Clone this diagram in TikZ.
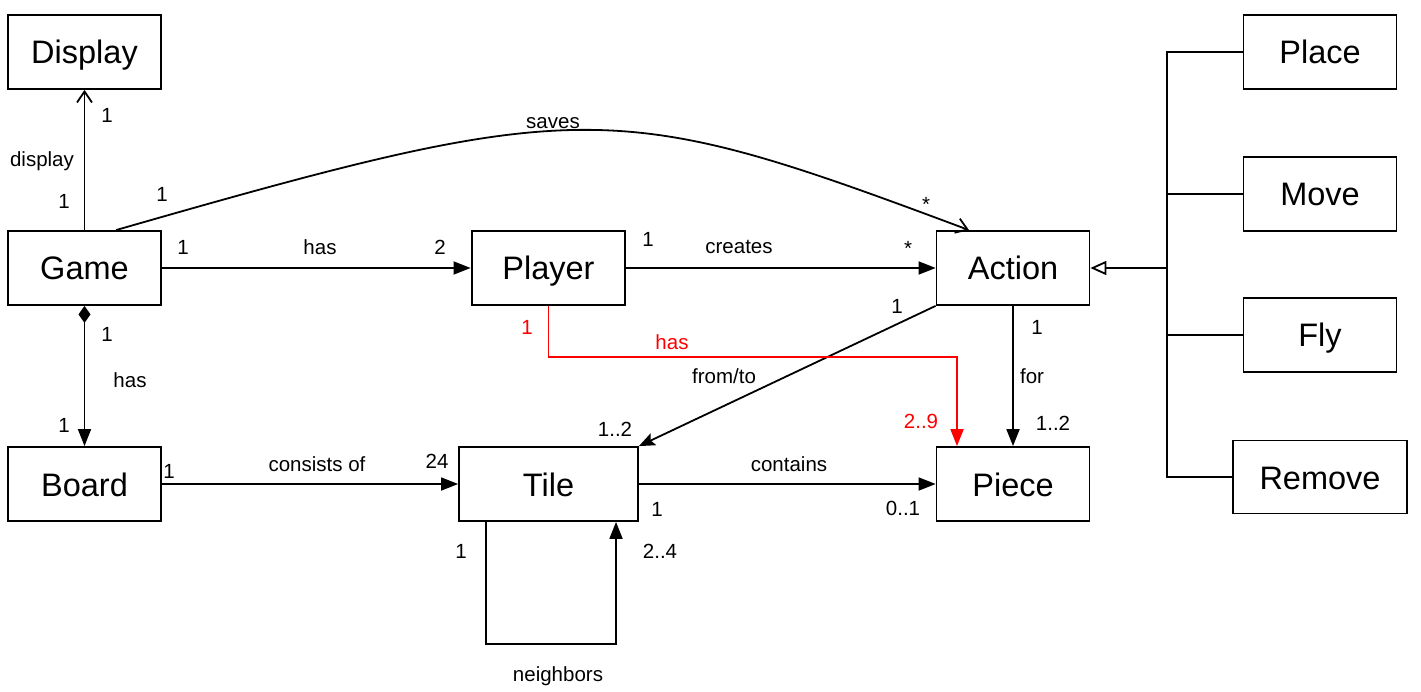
\documentclass[tikz,border=0pt]{standalone}
\usepackage{fontspec}
\setmainfont{Liberation Sans}
\usetikzlibrary{arrows.meta,calc}
\begin{document}
\begin{tikzpicture}[x=1pt,y=-1pt,
  cls/.style={draw, line width=1.8pt, minimum width=153pt, minimum height=74pt, inner sep=0pt,
    text height=24pt, text depth=0pt, font=\fontsize{32.5}{36}\selectfont},
  lbl/.style={inner sep=0pt, anchor=base, font=\fontsize{20.5}{24}\selectfont},
  conn/.style={line width=1.8pt},
  filltip/.style={-{Triangle[length=17pt,width=13pt]}},
  opentip/.style={-{Straight Barb[length=11pt,width=15pt]}},
]
\fill[white] (0,0) rectangle (1421,692);
\useasboundingbox (0,0) rectangle (1421,692);

% classes
\node[cls] (Display) at (84.5,52) {Display};
\node[cls] (Game) at (84.5,268) {Game};
\node[cls] (Board) at (84.5,484) {Board};
\node[cls, line width=2.8pt] (Player) at (548.5,268) {Player};
\node[cls] (Action) at (1013,268) {Action};
\node[cls, minimum width=179pt] (Tile) at (548.5,484) {Tile};
\node[cls] (Piece) at (1013,484) {Piece};
\node[cls] (Place) at (1320,52) {Place};
\node[cls] (Move) at (1320,194) {Move};
\node[cls] (Fly) at (1320,335) {Fly};
\node[cls, minimum width=174pt, minimum height=73pt] (Remove) at (1320,477) {Remove};

% connectors
\draw[conn, opentip] (Game.north) -- (Display.south);
\draw[conn, opentip] ($(Game.north)+(31.5,0)$) .. controls +(470,-135) and +(-353,-132) .. ($(Action.north)+(-44,0)$);
\draw[conn, filltip] (Game.east) -- (Player.west);
\draw[conn, filltip] (Player.east) -- (Action.west);
\draw[conn, {Diamond[length=17pt,width=12pt]}-{Triangle[length=17pt,width=13pt]}] (Game.south) -- (Board.north);
\draw[conn, filltip] (Board.east) -- (Tile.west);
\draw[conn, filltip] (Tile.east) -- (Piece.west);
\draw[conn, filltip] (Action.south) -- (Piece.north);
\draw[conn, -{Stealth[length=16pt,width=13pt,inset=3pt]}] (Action.south west) -- (Tile.north east);
\draw[conn, red, filltip] (Player.south) -- ++(0,51) -| ($(Piece.north)+(-56,0)$);
\draw[conn, filltip] ($(Tile.south)+(-62.5,0)$) -- ++(0,122) -| ($(Tile.south)+(67.5,0)$);

% generalization
\coordinate (bus) at (1167,268);
\draw[conn] (Place.west) -| (bus);
\draw[conn] (Remove.west) -| (bus);
\draw[conn] (Move.west) -- (Move.west -| bus);
\draw[conn] (Fly.west) -- (Fly.west -| bus);
\draw[line width=2.4pt, -{Triangle[open,length=16pt,width=14pt,fill=white,line width=1.8pt]}] (bus) -- (Action.east);

% labels
\node[lbl] (m1) at (107,123) {1};
\node[lbl] (t1) at (42,167) {display};
\node[lbl] (m2) at (64,209) {1};
\node[lbl] (m3) at (162,202) {1};
\node[lbl] (t2) at (553,129) {saves};
\node[lbl] (m4) at (926,212) {*};
\node[lbl] (m5) at (183,255) {1};
\node[lbl] (t3) at (320,255) {has};
\node[lbl] (m6) at (440,255) {2};
\node[lbl] (m7) at (648,247) {1};
\node[lbl] (t4) at (739,254) {creates};
\node[lbl] (m8) at (908,256) {*};
\node[lbl] (m9) at (897,314) {1};
\node[lbl] (t5) at (724,383) {from/to};
\node[lbl] (m10) at (615,436) {1..2};
\node[lbl, text=red] (m11) at (527,335) {1};
\node[lbl, text=red] (t6) at (672,349) {has};
\node[lbl, text=red] (m12) at (921,428) {2..9};
\node[lbl] (m13) at (1037,335) {1};
\node[lbl] (t7) at (1032,383) {for};
\node[lbl] (m14) at (1053,430) {1..2};
\node[lbl] (m15) at (903,515) {0..1};
\node[lbl] (m16) at (107,342) {1};
\node[lbl] (t8) at (130,387) {has};
\node[lbl] (m17) at (64,432) {1};
\node[lbl] (m18) at (169,478) {1};
\node[lbl] (t9) at (317,471) {consists of};
\node[lbl] (m19) at (437,468) {24};
\node[lbl] (t10) at (789,471) {contains};
\node[lbl] (m20) at (657,516) {1};
\node[lbl] (m21) at (461,558) {1};
\node[lbl] (m22) at (660,558) {2..4};
\node[lbl] (t11) at (558,681) {neighbors};
\end{tikzpicture}
\end{document}
